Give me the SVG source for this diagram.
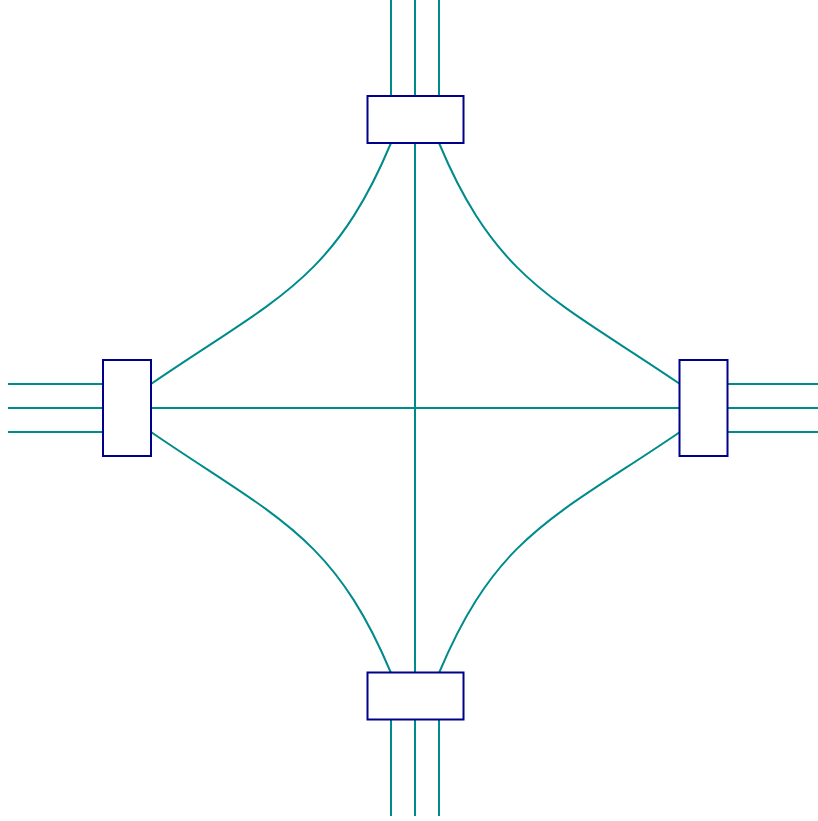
<svg xmlns="http://www.w3.org/2000/svg" width="818" height="821" viewBox="0 0 818 821">
<style>
.c{fill:none;stroke:#008b8b;stroke-width:2}
.n{fill:#fff;stroke:#00008b;stroke-width:2}
</style>
<rect width="818" height="821" fill="#fff"/>
<g id="connectors">
<path class="c" d="M391,0V96M415,0V96M439,0V96"/>
<path class="c" d="M391,720V816M415,720V816M439,720V816"/>
<path class="c" d="M8,384H103M8,408H103M8,432H103"/>
<path class="c" d="M727,384H818M727,408H818M727,432H818"/>
<path class="c" d="M151,408H680M415,143V673"/>
<path class="c" d="M391,143C333,281 275,299 151,384"/>
<path class="c" d="M439,143C497,281 555,299 680,384"/>
<path class="c" d="M391,673C333,535 275,517 151,432"/>
<path class="c" d="M439,673C497,535 555,517 680,432"/>
</g>
<g id="top"><rect class="n" x="367.5" y="96" width="96" height="47"/></g>
<g id="bottom"><rect class="n" x="367.5" y="672.5" width="96" height="47"/></g>
<g id="left"><rect class="n" x="103" y="360" width="48" height="96"/></g>
<g id="right"><rect class="n" x="679.5" y="360" width="48" height="96"/></g>
</svg>
